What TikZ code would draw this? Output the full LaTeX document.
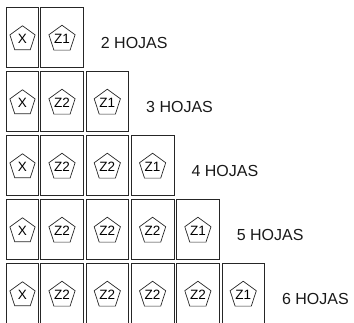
\documentclass[tikz,border=0pt]{standalone}
\usepackage{fontspec}
\setmainfont{Liberation Sans}
\usetikzlibrary{shapes.geometric}
\begin{document}
\begin{tikzpicture}[x=1pt,y=-1pt,
  sheet/.style={draw=black!85, line width=0.8pt, inner sep=0pt, minimum height=60pt},
  xsheet/.style={sheet, minimum width=31.6pt},
  zsheet/.style={sheet, minimum width=42.6pt},
  pent/.style={regular polygon, regular polygon sides=5, draw=black!85, line width=0.7pt,
    minimum size=26.5pt, inner sep=0pt, font=\fontsize{13.5}{13.5}\selectfont},
  lbl/.style={anchor=base west, inner sep=0pt, font=\fontsize{16}{16}\selectfont, text=black!90}]
\clip (0,0) rectangle (354,322);
\foreach \n in {1,...,5} {
  \pgfmathsetmacro\rtop{7+64*(\n-1)}
  \node[xsheet] (b\n x) at (22.5,\rtop+30) {};
  \node[pent] (p\n x) at (22.5,\rtop+32) {X};
  \foreach \k in {1,...,\n} {
    \pgfmathsetmacro\cx{62+45.3*(\k-1)}
    \ifnum\k=\n\def\zl{Z1}\else\def\zl{Z2}\fi
    \node[zsheet] (b\n z\k) at (\cx,\rtop+30) {};
    \node[pent] (p\n z\k) at (\cx,\rtop+32) {\zl};
  }
  \pgfmathtruncatemacro\hojas{\n+1}
  \coordinate (e\n) at (b\n z\n.east);
  \node[lbl] (t\n) at ([xshift=17pt]e\n |- 0,\rtop+41) {\hojas{} HOJAS};
}
\end{tikzpicture}
\end{document}
